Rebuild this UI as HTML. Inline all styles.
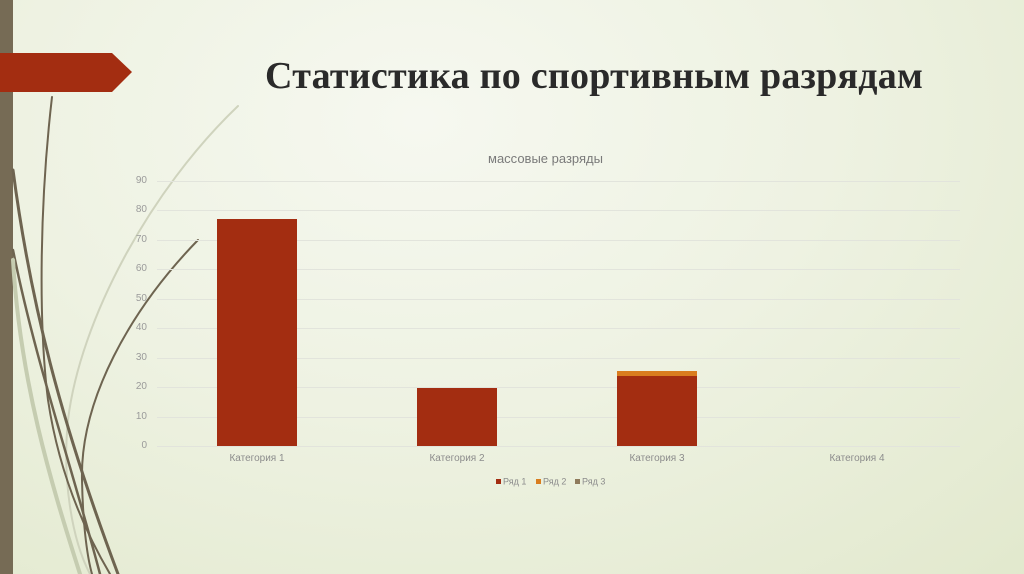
<!DOCTYPE html>
<html><head><meta charset="utf-8"><style>
html,body{margin:0;padding:0}
body{width:1024px;height:574px;overflow:hidden;position:relative;font-family:"Liberation Sans",sans-serif;
background:radial-gradient(ellipse 900px 650px at 420px 120px,#f6f8f0 0%,#eef2e2 45%,#e1e8cc 100%);}
.t{position:absolute;font-family:"Liberation Serif",serif;font-weight:bold;font-size:38px;letter-spacing:0.25px;color:#2a2a2a;left:265px;top:54px;white-space:nowrap}
.yl{position:absolute;font-size:10px;color:#9a9a9a;width:20px;text-align:right;left:127px}
.xl{position:absolute;font-size:10px;color:#8c8c8c;width:120px;text-align:center;top:453px}
</style></head><body>
<svg width="1024" height="574" style="position:absolute;left:0;top:0">
<rect x="0" y="0" width="13" height="574" fill="#766b55"/>
<polygon points="0,53 112,53 132,72 112,92 0,92" fill="#a32d11"/>
<g fill="none" stroke-linecap="round">
<path d="M238,106 C150,190 80,320 68,420 C62,480 72,540 90,574" stroke="#cfd3bd" stroke-width="2"/>
<path d="M52,97 C40,200 38,320 48,400 C60,480 90,540 110,574" stroke="#6e6450" stroke-width="2"/>
<path d="M13,170 C30,300 60,420 118,574" stroke="#6e6450" stroke-width="3"/>
<path d="M13,250 C35,360 70,460 100,574" stroke="#6e6450" stroke-width="2.5"/>
<path d="M13,260 C20,380 50,480 80,574" stroke="#c5ccb0" stroke-width="4"/>
<path d="M198,240 C130,310 80,400 82,480 C83,530 88,560 92,574" stroke="#6e6450" stroke-width="2"/>
</g>
<g stroke="#e2e4dc" stroke-width="1">
<line x1="157" x2="960" y1="181.5" y2="181.5"/><line x1="157" x2="960" y1="210.5" y2="210.5"/>
<line x1="157" x2="960" y1="240.5" y2="240.5"/><line x1="157" x2="960" y1="269.5" y2="269.5"/>
<line x1="157" x2="960" y1="299.5" y2="299.5"/><line x1="157" x2="960" y1="328.5" y2="328.5"/>
<line x1="157" x2="960" y1="358.5" y2="358.5"/><line x1="157" x2="960" y1="387.5" y2="387.5"/>
<line x1="157" x2="960" y1="417.5" y2="417.5"/><line x1="157" x2="960" y1="446.5" y2="446.5"/>
</g>
<rect x="217" y="219" width="80" height="227" fill="#a32d11"/>
<rect x="417" y="388" width="80" height="58" fill="#a32d11"/>
<rect x="617" y="376" width="80" height="70" fill="#a32d11"/>
<rect x="617" y="371" width="80" height="5" fill="#d97d1f"/>
<rect x="496" y="479" width="5" height="5" fill="#a32d11"/>
<rect x="536" y="479" width="5" height="5" fill="#d97d1f"/>
<rect x="575" y="479" width="5" height="5" fill="#8f7b5c"/>
<g font-family="Liberation Sans,sans-serif" font-size="9" fill="#8c8c8c">
<text x="503" y="484.5">Ряд 1</text><text x="543" y="484.5">Ряд 2</text><text x="582" y="484.5">Ряд 3</text>
</g>
</svg>
<div class="t">Статистика по спортивным разрядам</div>
<div style="position:absolute;width:1024px;top:151px;text-align:center;font-size:13px;color:#7a7a7a;padding-left:75px;box-sizing:border-box;left:-4px">массовые разряды</div>
<div class="yl" style="top:175px">90</div><div class="yl" style="top:204px">80</div>
<div class="yl" style="top:234px">70</div><div class="yl" style="top:263px">60</div>
<div class="yl" style="top:293px">50</div><div class="yl" style="top:322px">40</div>
<div class="yl" style="top:352px">30</div><div class="yl" style="top:381px">20</div>
<div class="yl" style="top:411px">10</div><div class="yl" style="top:440px">0</div>
<div class="xl" style="left:197px">Категория 1</div><div class="xl" style="left:397px">Категория 2</div>
<div class="xl" style="left:597px">Категория 3</div><div class="xl" style="left:797px">Категория 4</div>
</body></html>
